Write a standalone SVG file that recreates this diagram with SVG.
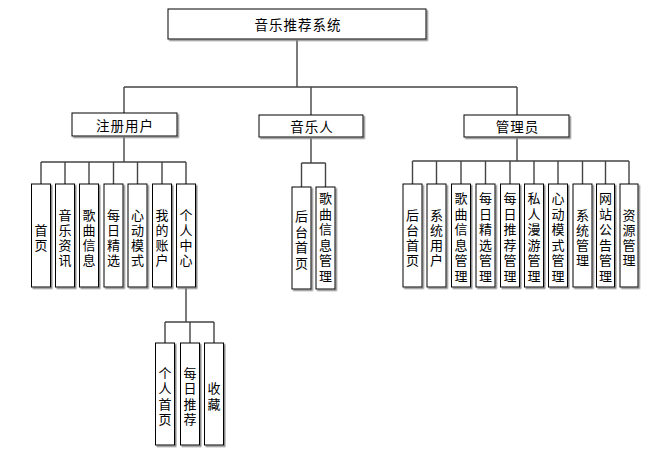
<svg xmlns="http://www.w3.org/2000/svg" width="667" height="461" viewBox="0 0 667 461">
<defs>
<filter id="sh" x="-10%" y="-10%" width="130%" height="130%">
<feDropShadow dx="1.5" dy="1.5" stdDeviation="0" flood-color="#8a8a8a" flood-opacity="1"/>
</filter>
<style>
.box{fill:#fff;stroke:#000;stroke-width:1;filter:url(#sh)}
.t{font-family:"Noto Sans CJK SC","Noto Sans",sans-serif;font-size:13.5px;fill:#000;text-anchor:middle;dominant-baseline:central}
.v{font-size:13px}
.h{letter-spacing:1px}
.c{fill:none;stroke:#444;stroke-width:1.4}
</style>
</defs>
<rect width="667" height="461" fill="#fff"/>
<g id="connectors">
<path class="c" d="M297 39V87M124 87H517M124 87V113M311 87V115M517 87V115"/>
<path class="c" d="M124 136V162M41 162H186M41 162V184M65 162V184M89 162V184M113.5 162V184M137.5 162V184M162 162V184M186 162V184"/>
<path class="c" d="M186 287V322M165 322H214M165 322V343M190 322V343M214 322V343"/>
<path class="c" d="M311 137V163M301.5 163H325.5M301.5 163V187M325.5 163V187"/>
<path class="c" d="M517 137V161M412.5 161H629M412.5 161V184M436.5 161V184M461 161V184M485.5 161V184M510 161V184M534 161V184M558 161V184M582.5 161V184M605.5 161V184M629 161V184"/>
</g>
<g id="root"><rect class="box" x="168" y="9" width="258" height="30"/><text class="t h" x="298" y="24">音乐推荐系统</text></g>
<g id="reg"><rect class="box" x="72" y="113" width="105" height="23"/><text class="t h" x="125" y="124.5">注册用户</text></g>
<g id="musician"><rect class="box" x="259" y="115" width="104" height="22"/><text class="t h" x="312" y="126">音乐人</text></g>
<g id="admin"><rect class="box" x="464" y="115" width="105" height="22"/><text class="t h" x="517.5" y="126">管理员</text></g>

<g id="r1"><rect class="box" x="31.5" y="184" width="19" height="103"/><text class="t v"><tspan x="41" y="228.5">首</tspan><tspan x="41" y="243.5">页</tspan></text></g>
<g id="r2"><rect class="box" x="55.5" y="184" width="19" height="103"/><text class="t v"><tspan x="65" y="213.5">音</tspan><tspan x="65" y="228.5">乐</tspan><tspan x="65" y="243.5">资</tspan><tspan x="65" y="258.5">讯</tspan></text></g>
<g id="r3"><rect class="box" x="79.5" y="184" width="19" height="103"/><text class="t v"><tspan x="89" y="213.5">歌</tspan><tspan x="89" y="228.5">曲</tspan><tspan x="89" y="243.5">信</tspan><tspan x="89" y="258.5">息</tspan></text></g>
<g id="r4"><rect class="box" x="104" y="184" width="19" height="103"/><text class="t v"><tspan x="113.5" y="213.5">每</tspan><tspan x="113.5" y="228.5">日</tspan><tspan x="113.5" y="243.5">精</tspan><tspan x="113.5" y="258.5">选</tspan></text></g>
<g id="r5"><rect class="box" x="128" y="184" width="19" height="103"/><text class="t v"><tspan x="137.5" y="213.5">心</tspan><tspan x="137.5" y="228.5">动</tspan><tspan x="137.5" y="243.5">模</tspan><tspan x="137.5" y="258.5">式</tspan></text></g>
<g id="r6"><rect class="box" x="152.5" y="184" width="19" height="103"/><text class="t v"><tspan x="162" y="213.5">我</tspan><tspan x="162" y="228.5">的</tspan><tspan x="162" y="243.5">账</tspan><tspan x="162" y="258.5">户</tspan></text></g>
<g id="r7"><rect class="box" x="176.5" y="184" width="19" height="103"/><text class="t v"><tspan x="186" y="213.5">个</tspan><tspan x="186" y="228.5">人</tspan><tspan x="186" y="243.5">中</tspan><tspan x="186" y="258.5">心</tspan></text></g>

<g id="p1"><rect class="box" x="155.5" y="343" width="19" height="102"/><text class="t v"><tspan x="165" y="371.5">个</tspan><tspan x="165" y="387">人</tspan><tspan x="165" y="402.5">首</tspan><tspan x="165" y="418">页</tspan></text></g>
<g id="p2"><rect class="box" x="180.5" y="343" width="19" height="102"/><text class="t v"><tspan x="190" y="371.5">每</tspan><tspan x="190" y="387">日</tspan><tspan x="190" y="402.5">推</tspan><tspan x="190" y="418">荐</tspan></text></g>
<g id="p3"><rect class="box" x="204.5" y="343" width="19" height="102"/><text class="t v"><tspan x="214" y="387">收</tspan><tspan x="214" y="402.5">藏</tspan></text></g>

<g id="m1"><rect class="box" x="292" y="187" width="19" height="102"/><text class="t v"><tspan x="301.5" y="215">后</tspan><tspan x="301.5" y="230.5">台</tspan><tspan x="301.5" y="246">首</tspan><tspan x="301.5" y="261.5">页</tspan></text></g>
<g id="m2"><rect class="box" x="316" y="187" width="19" height="102"/><text class="t v"><tspan x="325.5" y="197">歌</tspan><tspan x="325.5" y="212.5">曲</tspan><tspan x="325.5" y="228">信</tspan><tspan x="325.5" y="243.5">息</tspan><tspan x="325.5" y="259">管</tspan><tspan x="325.5" y="274.5">理</tspan></text></g>

<g id="a1"><rect class="box" x="403" y="184" width="19" height="103"/><text class="t v"><tspan x="412.5" y="213.5">后</tspan><tspan x="412.5" y="228.5">台</tspan><tspan x="412.5" y="243.5">首</tspan><tspan x="412.5" y="258.5">页</tspan></text></g>
<g id="a2"><rect class="box" x="427" y="184" width="19" height="103"/><text class="t v"><tspan x="436.5" y="213.5">系</tspan><tspan x="436.5" y="228.5">统</tspan><tspan x="436.5" y="243.5">用</tspan><tspan x="436.5" y="258.5">户</tspan></text></g>
<g id="a3"><rect class="box" x="451.5" y="184" width="19" height="103"/><text class="t v"><tspan x="461" y="197">歌</tspan><tspan x="461" y="212.5">曲</tspan><tspan x="461" y="228">信</tspan><tspan x="461" y="243.5">息</tspan><tspan x="461" y="259">管</tspan><tspan x="461" y="274.5">理</tspan></text></g>
<g id="a4"><rect class="box" x="476" y="184" width="19" height="103"/><text class="t v"><tspan x="485.5" y="197">每</tspan><tspan x="485.5" y="212.5">日</tspan><tspan x="485.5" y="228">精</tspan><tspan x="485.5" y="243.5">选</tspan><tspan x="485.5" y="259">管</tspan><tspan x="485.5" y="274.5">理</tspan></text></g>
<g id="a5"><rect class="box" x="500.5" y="184" width="19" height="103"/><text class="t v"><tspan x="510" y="197">每</tspan><tspan x="510" y="212.5">日</tspan><tspan x="510" y="228">推</tspan><tspan x="510" y="243.5">荐</tspan><tspan x="510" y="259">管</tspan><tspan x="510" y="274.5">理</tspan></text></g>
<g id="a6"><rect class="box" x="524.5" y="184" width="19" height="103"/><text class="t v"><tspan x="534" y="197">私</tspan><tspan x="534" y="212.5">人</tspan><tspan x="534" y="228">漫</tspan><tspan x="534" y="243.5">游</tspan><tspan x="534" y="259">管</tspan><tspan x="534" y="274.5">理</tspan></text></g>
<g id="a7"><rect class="box" x="548.5" y="184" width="19" height="103"/><text class="t v"><tspan x="558" y="197">心</tspan><tspan x="558" y="212.5">动</tspan><tspan x="558" y="228">模</tspan><tspan x="558" y="243.5">式</tspan><tspan x="558" y="259">管</tspan><tspan x="558" y="274.5">理</tspan></text></g>
<g id="a8"><rect class="box" x="573" y="184" width="19" height="103"/><text class="t v"><tspan x="582.5" y="213.5">系</tspan><tspan x="582.5" y="228.5">统</tspan><tspan x="582.5" y="243.5">管</tspan><tspan x="582.5" y="258.5">理</tspan></text></g>
<g id="a9"><rect class="box" x="596.5" y="184" width="18" height="103"/><text class="t v"><tspan x="605.5" y="197">网</tspan><tspan x="605.5" y="212.5">站</tspan><tspan x="605.5" y="228">公</tspan><tspan x="605.5" y="243.5">告</tspan><tspan x="605.5" y="259">管</tspan><tspan x="605.5" y="274.5">理</tspan></text></g>
<g id="a10"><rect class="box" x="620" y="184" width="18" height="103"/><text class="t v"><tspan x="629" y="213.5">资</tspan><tspan x="629" y="228.5">源</tspan><tspan x="629" y="243.5">管</tspan><tspan x="629" y="258.5">理</tspan></text></g>
</svg>
